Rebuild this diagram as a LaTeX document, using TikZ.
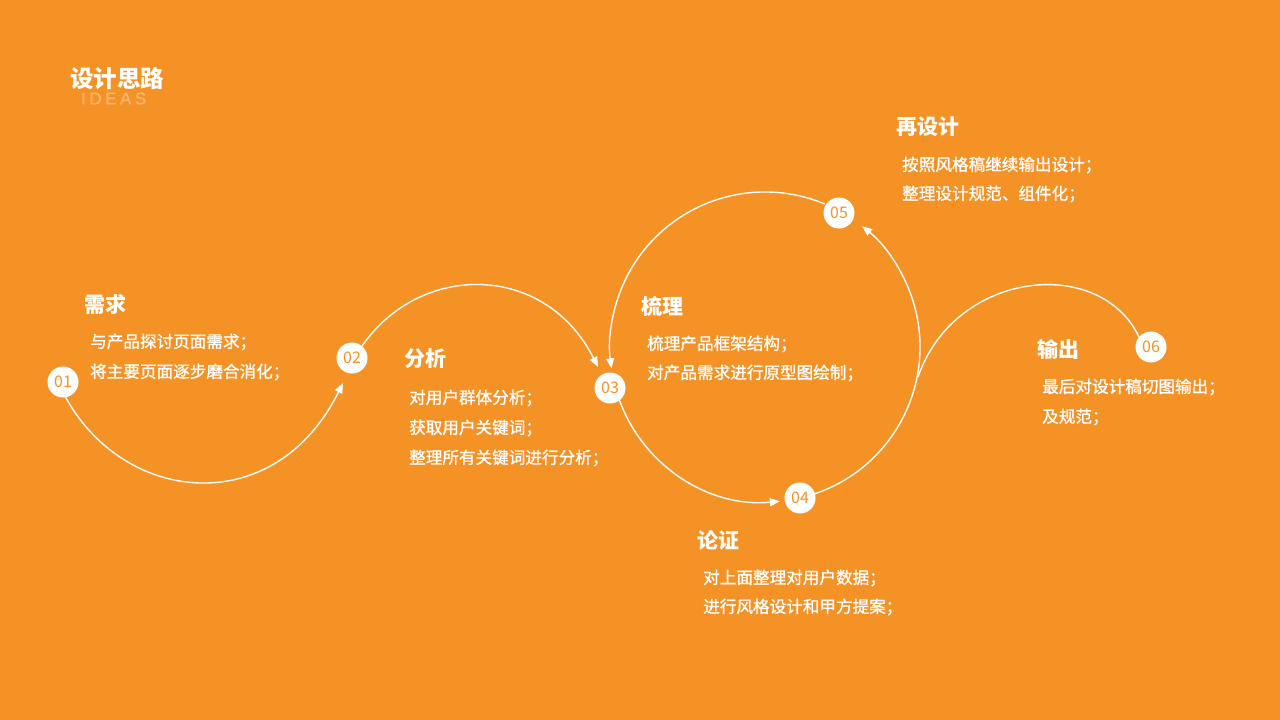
\documentclass[tikz,border=0pt]{standalone}
\usepackage{fontspec}
\newfontfamily\cjk{Noto Sans CJK SC}
\newfontfamily\cjkm[FakeBold=1.2]{Noto Sans CJK SC}
\newfontfamily\lat[FakeBold=1]{Liberation Sans}
\usetikzlibrary{arrows.meta}
\definecolor{bg}{RGB}{245,146,38}
\begin{document}
\begin{tikzpicture}[x=1pt,y=-1pt,
  num/.style={circle, fill=white, minimum size=31pt, inner sep=0pt, text=bg, font=\cjk\fontsize{16}{16}\selectfont},
  head/.style={anchor=west, text=white, inner sep=0pt, font=\cjk\bfseries\fontsize{21}{21}\selectfont},
  body/.style={anchor=west, text=white, inner sep=0pt, font=\cjkm\fontsize{16.6}{16.6}\selectfont},
  link/.style={draw=white, line width=1.4pt},
  tip/.style={-{Triangle[length=10pt,width=8pt]}}]
\fill[bg] (0,0) rectangle (1280,720);
\useasboundingbox (0,0) rectangle (1280,720);

% title
\node[anchor=west, inner sep=0pt, text=white, text opacity=0.3, font=\lat\fontsize{17}{17}\selectfont] (ideas) at (81,98.5) {I\kern3.5pt D\kern3.5pt E\kern3.5pt A\kern3.5pt S};
\node[anchor=west, inner sep=0pt, text=white, font=\cjk\bfseries\fontsize{23.5}{23.5}\selectfont] (title) at (70,79) {设计思路};

% circle centre
\coordinate (C) at (765,347);

% numbered nodes
\node[num] (n1) at (63,382) {01};
\node[num] (n2) at (352,358) {02};
\node[num] (n3) at (610,388) {03};
\node[num] (n4) at (800,498) {04};
\node[num] (n5) at (839,213) {05};
\node[num] (n6) at (1151,347) {06};

% connectors
\draw[link,tip] (n1.-80) .. controls (125,505) and (275,520) .. (343,383);
\draw[link,tip] (n2.50) .. controls (420,262) and (545,262) .. (598,367);
\draw[link,tip] (C) ++(67.3:155pt) arc[start angle=67.3, end angle=187.9, radius=155pt];
\draw[link,tip] (C) ++(199.4:155pt) arc[start angle=199.4, end angle=275.5, radius=155pt];
\draw[link,tip] (C) ++(288.7:155pt) arc[start angle=288.7, end angle=411.2, radius=155pt];
\coordinate (s6) at (918,377);
\draw[link] (s6) .. controls (955,270) and (1100,255) .. (n6.140);

% texts
\node[head] (h1) at (84,304) {需求};
\node[body] (b11) at (90,342) {与产品探讨页面需求；};
\node[body] (b12) at (90,372) {将主要页面逐步磨合消化；};

\node[head] (h2) at (404,359) {分析};
\node[body] (b21) at (409,398) {对用户群体分析；};
\node[body] (b22) at (409,428) {获取用户关键词；};
\node[body] (b23) at (409,458) {整理所有关键词进行分析；};

\node[head] (h3) at (641,306) {梳理};
\node[body] (b31) at (647,344) {梳理产品框架结构；};
\node[body] (b32) at (647,373) {对产品需求进行原型图绘制；};

\node[head] (h4) at (697,540) {论证};
\node[body] (b41) at (703,578) {对上面整理对用户数据；};
\node[body] (b42) at (703,607) {进行风格设计和甲方提案；};

\node[head] (h5) at (896,127) {再设计};
\node[body] (b51) at (902,165) {按照风格稿继续输出设计；};
\node[body] (b52) at (902,194) {整理设计规范、组件化；};

\node[head] (h6) at (1037,349) {输出};
\node[body] (b61) at (1042,387) {最后对设计稿切图输出；};
\node[body] (b62) at (1042,417) {及规范；};
\end{tikzpicture}
\end{document}
